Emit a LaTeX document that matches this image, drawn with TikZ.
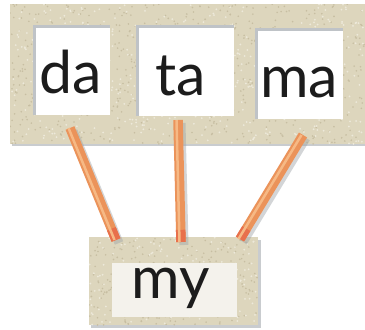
\documentclass[tikz,border=0pt]{standalone}
\usepackage{fontspec}
\setmainfont{Lato}
\usetikzlibrary{calc}
\definecolor{panelc}{HTML}{DDD6BD}
\definecolor{speckdark}{HTML}{C7BEA2}
\definecolor{specklight}{HTML}{EDE9DA}
\definecolor{shadowc}{HTML}{9EA3A8}
\definecolor{insetc}{HTML}{BFC3C7}
\definecolor{stickc}{HTML}{EB935A}
\definecolor{stickhi}{HTML}{F6B985}
\definecolor{stickend}{HTML}{E8704C}
\definecolor{inkc}{HTML}{1C1C1C}
\definecolor{mybg}{HTML}{F4F2EC}
\begin{document}
\begin{tikzpicture}[x=1pt,y=-1pt,
  panelbox/.style={fill=panelc, draw=none, inner sep=0pt},
  panelshadow/.style={fill=shadowc, opacity=.55, draw=none},
  wordbox/.style={fill=white, draw=none, inner sep=0pt},
  inset/.style={draw=insetc, line width=3pt},
  stickbody/.style={draw=stickc, line width=9.5pt},
  stickhl/.style={draw=stickhi, line width=2.5pt},
  sticktip/.style={draw=stickend, line width=9.5pt},
  stickshadow/.style={draw=shadowc, line width=9pt, opacity=.45},
  word/.style={font=\fontsize{59}{59}\selectfont, text=inkc, anchor=base, inner sep=0pt}
]
\useasboundingbox (0,0) rectangle (365,330);
\fill[white] (0,0) rectangle (365,330);

% top panel
\fill[panelshadow] (12,7) rectangle (367,146);
\node[panelbox, minimum width=355pt, minimum height=140pt] (top) at (187.5,74) {};
\begin{scope}
\clip (10,4) rectangle (365,144);
\pgfmathsetseed{11}
\foreach \i in {1,...,700}{
  \pgfmathsetmacro\xx{10+355*rnd}
  \pgfmathsetmacro\yy{4+140*rnd}
  \fill[speckdark] (\xx,\yy) circle (0.9pt);
}
\foreach \i in {1,...,500}{
  \pgfmathsetmacro\xx{10+355*rnd}
  \pgfmathsetmacro\yy{4+140*rnd}
  \fill[specklight] (\xx,\yy) circle (1pt);
}
\end{scope}

% word boxes
\node[wordbox, minimum width=77pt, minimum height=87pt] (bda) at (71.5,71.5) {};
\node[wordbox, minimum width=98pt, minimum height=88pt] (bta) at (185,72) {};
\node[wordbox, minimum width=88pt, minimum height=88pt] (bma) at (299,75) {};
\foreach \b in {bda,bta,bma}{
  \draw[inset] ([shift={(1.5,0)}]\b.south west) -- ([shift={(1.5,-1.5)}]\b.north west) -- ([shift={(0,-1.5)}]\b.north east);
}
\node[word] (da) at (71,93) {da};
\node[word] (ta) at (181,95) {ta};
\node[word] (ma) at (299,97) {ma};

% bottom panel
\fill[panelshadow] (91,240) rectangle (261,328);
\node[panelbox, minimum width=169pt, minimum height=88pt] (bottom) at (173.5,281) {};
\begin{scope}
\clip (89,237) rectangle (258,325);
\pgfmathsetseed{5}
\foreach \i in {1,...,260}{
  \pgfmathsetmacro\xx{89+169*rnd}
  \pgfmathsetmacro\yy{237+88*rnd}
  \fill[speckdark] (\xx,\yy) circle (0.9pt);
}
\foreach \i in {1,...,180}{
  \pgfmathsetmacro\xx{89+169*rnd}
  \pgfmathsetmacro\yy{237+88*rnd}
  \fill[specklight] (\xx,\yy) circle (1pt);
}
\end{scope}
\node[wordbox, fill=mybg, minimum width=125pt, minimum height=54pt] (bmy) at (174.5,290) {};
\node[word] (my) at (171,298) {my};

% sticks
\coordinate (s1t) at (70,128);
\coordinate (s1b) at (116,240);
\coordinate (s2t) at (178,120);
\coordinate (s2b) at (181,242);
\coordinate (s3t) at (303,135);
\coordinate (s3b) at (240,239);
\foreach \a/\b in {s1t/s1b,s2t/s2b,s3t/s3b}{
  \draw[stickshadow] ([shift={(3,3)}]\a) -- ([shift={(3,3)}]\b);
  \draw[stickbody] (\a) -- (\b);
  \draw[sticktip] ($(\a)!0.9!(\b)$) -- (\b);
  \draw[stickhl] ([shift={(-1.5,0)}]\a) -- ([shift={(-1.5,0)}]\b);
}
\end{tikzpicture}
\end{document}
